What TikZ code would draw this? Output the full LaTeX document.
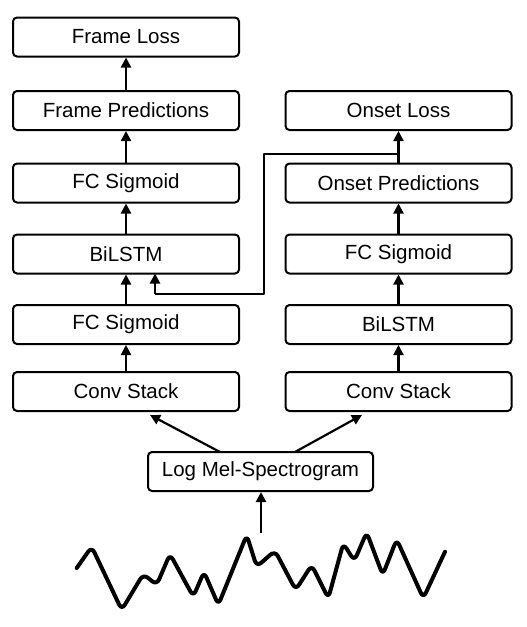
\documentclass[tikz,border=0pt]{standalone}
\usepackage{fontspec}
\setmainfont{Liberation Sans}
\usetikzlibrary{arrows.meta}
\begin{document}
\begin{tikzpicture}[x=1pt,y=-1pt,
  blk/.style={draw, line width=2pt, rounded corners=4pt, minimum width=226pt, minimum height=39pt, inner sep=0pt, font=\fontsize{20.5}{23}\selectfont},
  arr/.style={line width=2.2pt, -{Triangle[length=10pt,width=10pt]}},
  conn/.style={line width=2.2pt}]
\useasboundingbox (0,0) rectangle (527,627);
% left column
\node[blk] (fl) at (126,37) {Frame Loss};
\node[blk] (fp) at (126,110.5) {Frame Predictions};
\node[blk] (lfc2) at (126,183) {FC Sigmoid};
\node[blk] (lbi) at (126,254) {BiLSTM};
\node[blk] (lfc1) at (126,324.5) {FC Sigmoid};
\node[blk] (lcs) at (126,391.5) {Conv Stack};
% right column
\node[blk] (ol) at (398.5,110.5) {Onset Loss};
\node[blk] (op) at (398.5,183) {Onset Predictions};
\node[blk] (rfc) at (398.5,254) {FC Sigmoid};
\node[blk] (rbi) at (398.5,324.5) {BiLSTM};
\node[blk] (rcs) at (398.5,391.5) {Conv Stack};
% bottom
\node[blk, minimum width=225pt] (mel) at (260.5,471.5) {Log Mel-Spectrogram};
% arrows left
\draw[arr] (fp) -- (fl);
\draw[arr] (lfc2) -- (fp);
\draw[arr] (lbi) -- (lfc2);
\draw[arr] (lfc1) -- (lbi);
\draw[arr] (lcs) -- (lfc1);
% arrows right
\draw[arr] (op) -- (ol);
\draw[arr] (rfc) -- (op);
\draw[arr] (rbi) -- (rfc);
\draw[arr] (rcs) -- (rbi);
% from mel
\coordinate (ml) at (220,452);
\coordinate (mr) at (295,452);
\coordinate (tl) at (150,415);
\coordinate (tr) at (362,415);
\draw[arr] (ml) -- (tl);
\draw[arr] (mr) -- (tr);
% onset to frame bilstm
\coordinate (j) at (398.5,154);
\coordinate (c1) at (264,154);
\coordinate (c2) at (264,294);
\coordinate (c3) at (155,294);
\coordinate (c4) at (155,273.5);
\draw[conn, line join=round] (j) -- (c1) -- (c2) -- (c3);
\draw[arr] (c3) -- (c4);
% waveform
\coordinate (wv) at (261,533);
\draw[arr] (wv) -- (mel.south -| wv);
\draw[line width=4pt, line cap=round, line join=round, rounded corners=6pt]
 (76.7,568) -- (91.7,546.7) -- (121.7,610) -- (143.3,574) -- (156.7,585) -- (170,554)
 -- (193.3,596.7) -- (204,571.7) -- (218.3,605) -- (246.7,535) -- (256.7,566.7)
 -- (275,550.7) -- (295.7,590) -- (311.7,565) -- (328.3,598.3) -- (343.3,543.3)
 -- (354.3,561) -- (366.7,532.3) -- (382.7,575) -- (396.7,539.3) -- (423.3,598.3)
 -- (445,551.7);
\end{tikzpicture}
\end{document}
